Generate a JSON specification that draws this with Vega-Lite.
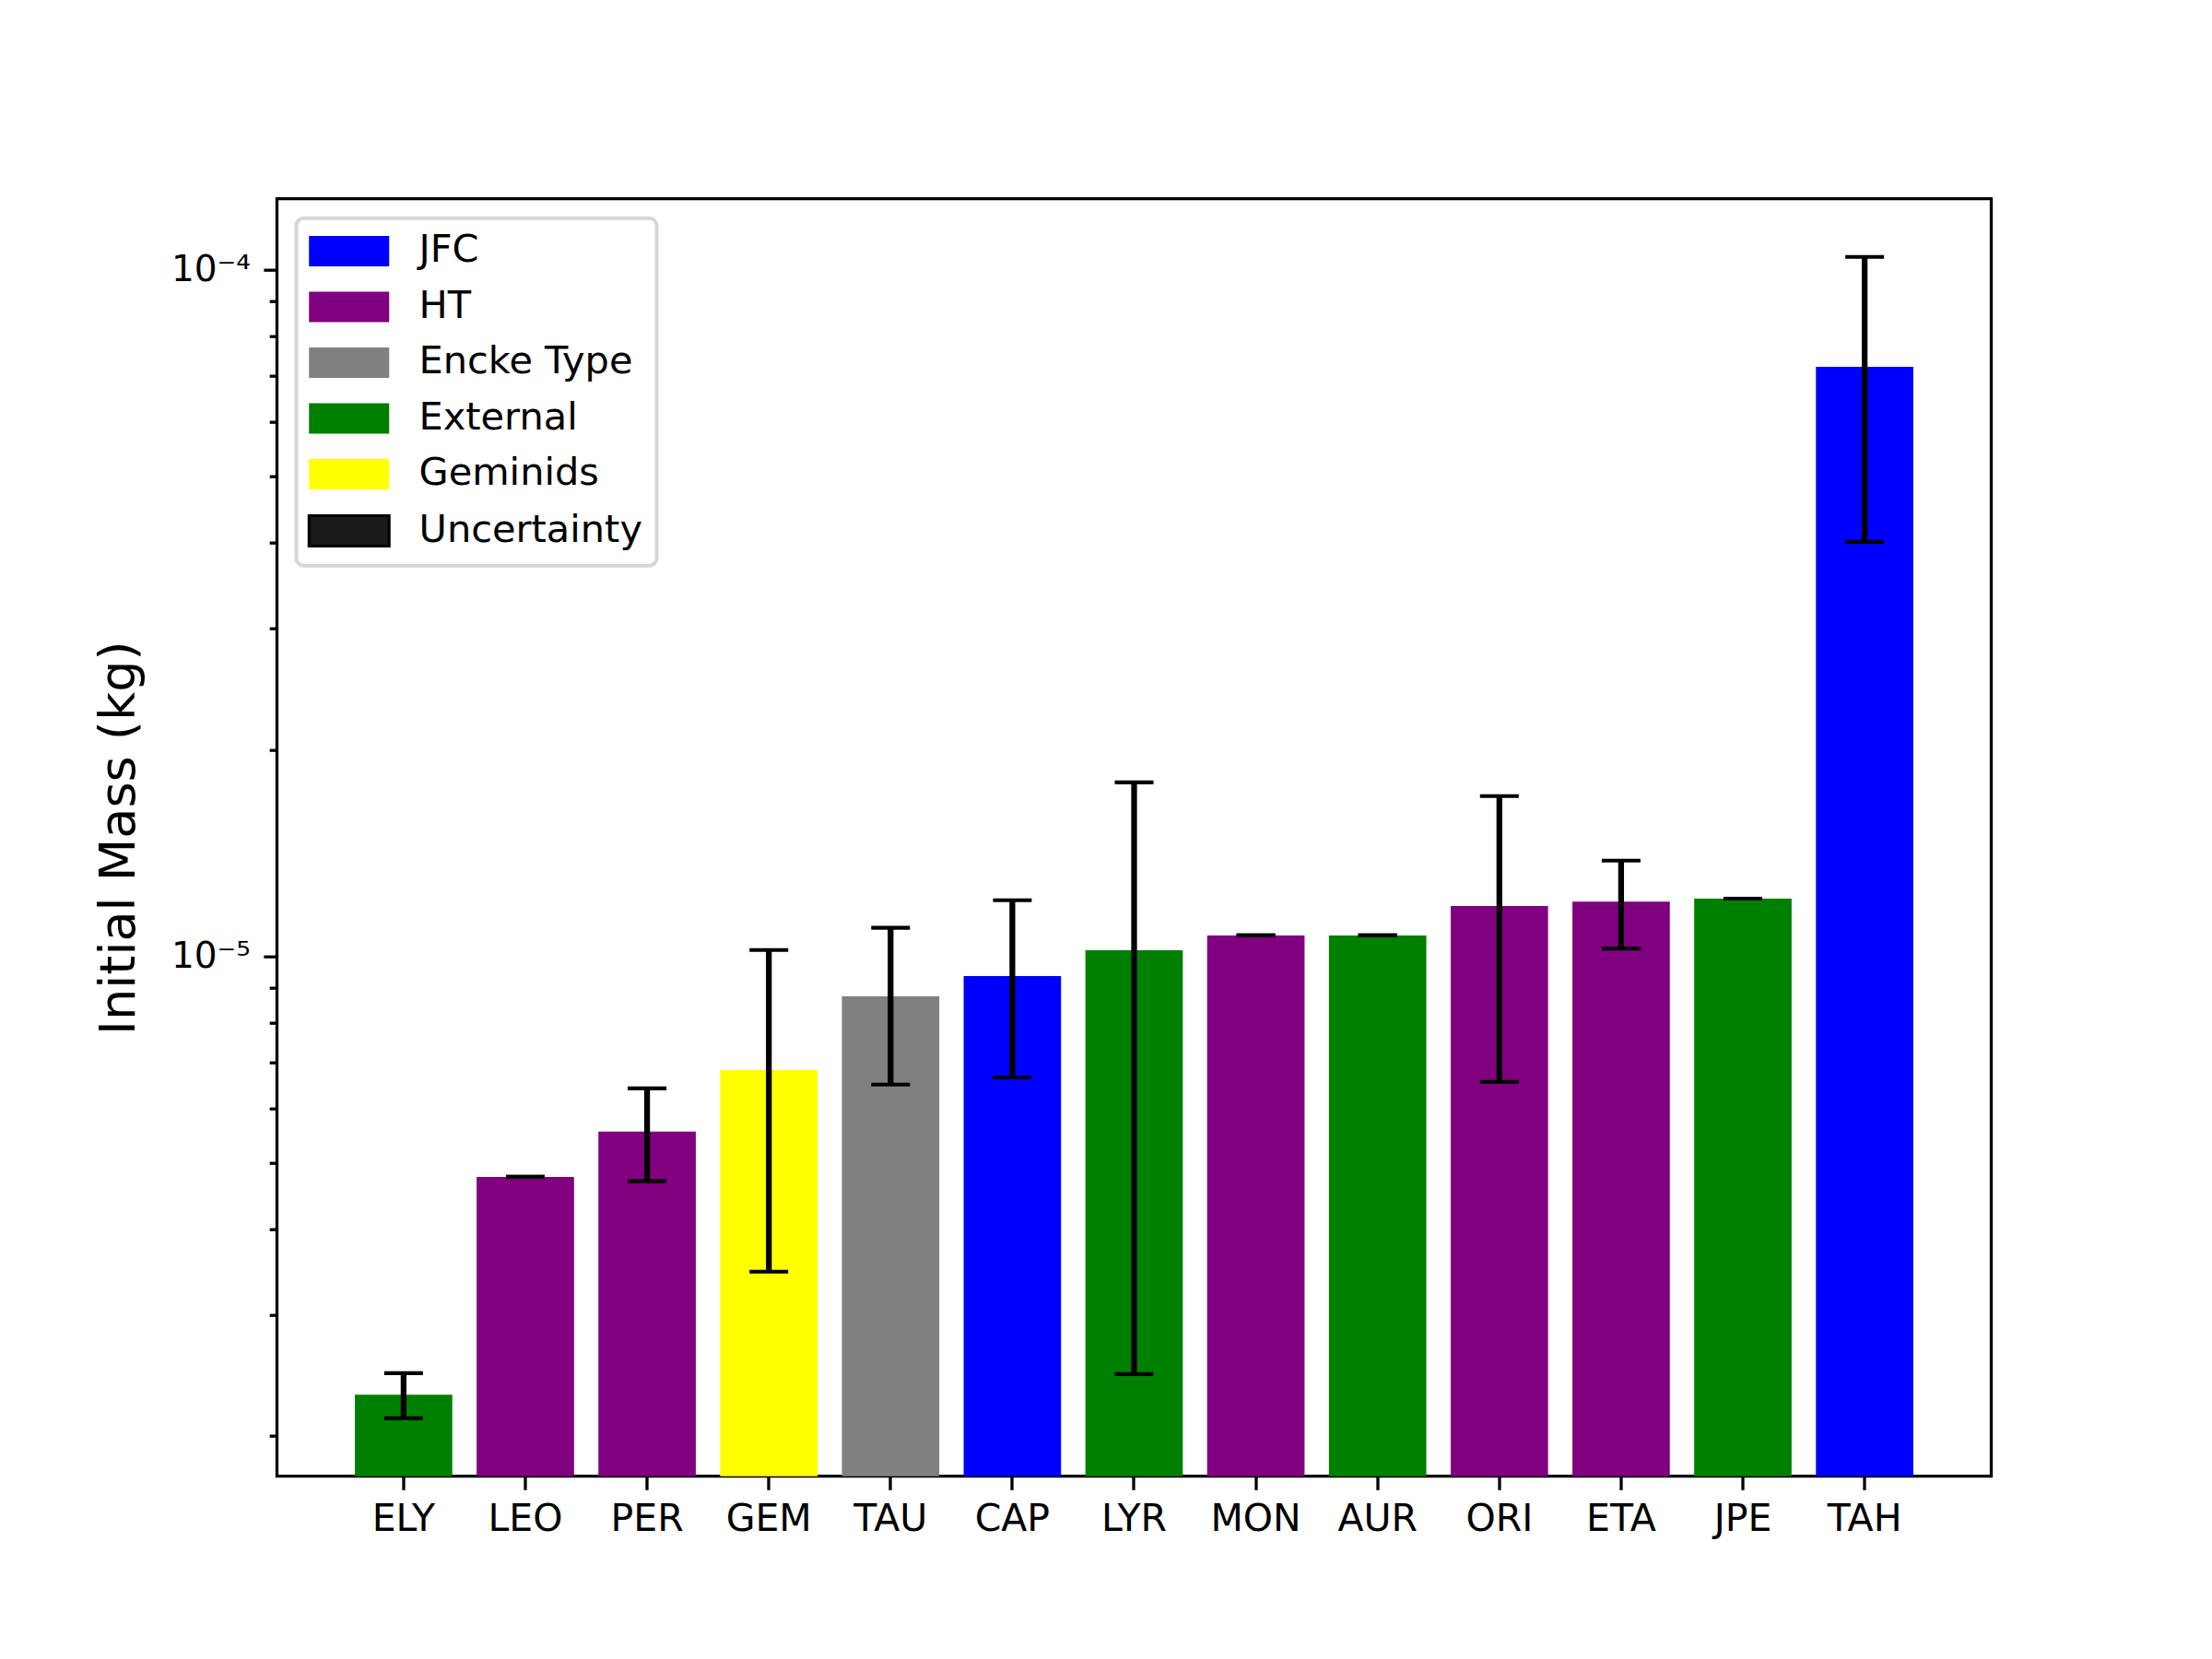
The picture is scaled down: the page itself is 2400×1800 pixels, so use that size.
{
  "$schema": "https://vega.github.io/schema/vega-lite/v6.json",
  "description": "Initial mass of meteoroids per shower, log scale, with uncertainty bars",
  "width": 1860,
  "height": 1386,
  "autosize": {"type": "none"},
  "padding": {"left": 300.5, "top": 215.7, "right": 239.5, "bottom": 198.3},
  "background": "white",
  "data": {
    "values": [
      {"shower": "ELY", "type": "External", "mass": 2.297e-6, "lo": 2.121e-6, "hi": 2.468e-6},
      {"shower": "LEO", "type": "HT", "mass": 4.768e-6, "lo": 4.77e-6, "hi": 4.77e-6},
      {"shower": "PER", "type": "HT", "mass": 5.554e-6, "lo": 4.70e-6, "hi": 6.416e-6},
      {"shower": "GEM", "type": "Geminids", "mass": 6.823e-6, "lo": 3.47e-6, "hi": 1.0209e-5},
      {"shower": "TAU", "type": "Encke Type", "mass": 8.74e-6, "lo": 6.50e-6, "hi": 1.0997e-5},
      {"shower": "CAP", "type": "JFC", "mass": 9.354e-6, "lo": 6.658e-6, "hi": 1.2065e-5},
      {"shower": "LYR", "type": "External", "mass": 1.02e-5, "lo": 2.461e-6, "hi": 1.792e-5},
      {"shower": "MON", "type": "HT", "mass": 1.0717e-5, "lo": 1.072e-5, "hi": 1.072e-5},
      {"shower": "AUR", "type": "External", "mass": 1.0717e-5, "lo": 1.072e-5, "hi": 1.072e-5},
      {"shower": "ORI", "type": "HT", "mass": 1.183e-5, "lo": 6.561e-6, "hi": 1.711e-5},
      {"shower": "ETA", "type": "HT", "mass": 1.2012e-5, "lo": 1.0263e-5, "hi": 1.378e-5},
      {"shower": "JPE", "type": "External", "mass": 1.2126e-5, "lo": 1.213e-5, "hi": 1.213e-5},
      {"shower": "TAH", "type": "JFC", "mass": 7.222e-5, "lo": 4.016e-5, "hi": 1.0443e-4}
    ]
  },
  "resolve": {"axis": {"y": "independent"}},
  "layer": [
    {
      "mark": {"type": "bar"},
      "encoding": {
        "x": {
          "field": "shower",
          "type": "nominal",
          "sort": null,
          "scale": {"paddingInner": 0.2, "paddingOuter": 0.64},
          "axis": {
            "title": null,
            "labelAngle": 0,
            "labelFont": "DejaVu Sans",
            "labelFontSize": 41,
            "labelColor": "black",
            "labelPadding": 12,
            "tickSize": 14.6,
            "tickWidth": 3.3,
            "tickColor": "black",
            "domain": false,
            "grid": false
          }
        },
        "y": {
          "field": "mass",
          "type": "quantitative",
          "stack": null,
          "scale": {"type": "log", "domain": [1.747e-6, 1.269e-4], "nice": false, "zero": false},
          "axis": {
            "orient": "left",
            "title": null,
            "values": [2e-6, 3e-6, 4e-6, 5e-6, 6e-6, 7e-6, 8e-6, 9e-6, 2e-5, 3e-5, 4e-5, 5e-5, 6e-5, 7e-5, 8e-5, 9e-5],
            "labels": false,
            "tickSize": 8.3,
            "tickWidth": 3.3,
            "tickColor": "black",
            "domain": false,
            "grid": false
          }
        },
        "color": {
          "field": "type",
          "type": "nominal",
          "scale": {
            "domain": ["JFC", "HT", "Encke Type", "External", "Geminids", "Uncertainty"],
            "range": ["#0000ff", "#800080", "#808080", "#008000", "#ffff00", "#1a1a1a"]
          },
          "legend": {
            "title": null,
            "orient": "top-left",
            "offset": 21,
            "padding": 15,
            "fillColor": "white",
            "strokeColor": "#d6d6d6",
            "cornerRadius": 8,
            "symbolType": "M-1,-0.38L1,-0.38L1,0.38L-1,0.38Z",
            "symbolSize": 7569,
            "symbolOffset": 21.5,
            "symbolOpacity": 1,
            "symbolStrokeWidth": 0,
            "labelFont": "DejaVu Sans",
            "labelFontSize": 41.5,
            "labelColor": "black",
            "labelLimit": 500,
            "labelOffset": 55,
            "rowPadding": 17.5,
            "encode": {
              "legend": {
                "update": {
                  "strokeWidth": {"value": 4}
                }
              },
              "symbols": {
                "update": {
                  "stroke": {"value": "black"},
                  "strokeWidth": {"signal": "datum.value === 'Uncertainty' ? 3 : 0"}
                }
              }
            }
          }
        }
      }
    },
    {
      "mark": {"type": "rule", "color": "black", "strokeWidth": 6.25},
      "encoding": {
        "x": {"field": "shower", "type": "nominal", "sort": null},
        "y": {
          "field": "lo",
          "type": "quantitative",
          "scale": {"type": "log", "domain": [1.747e-6, 1.269e-4], "nice": false, "zero": false},
          "axis": {
            "orient": "left",
            "title": "Initial Mass (kg)",
            "titleFont": "DejaVu Sans",
            "titleFontSize": 54,
            "titleFontWeight": "normal",
            "titleColor": "black",
            "titleAngle": 270,
            "titleAlign": "center",
            "titleBaseline": "alphabetic",
            "titleX": -155.5,
            "titleY": 693,
            "values": [1e-5, 1e-4],
            "labelExpr": "datum.value < 0.00005 ? '10⁻⁵' : '10⁻⁴'",
            "labelFont": "DejaVu Sans",
            "labelFontSize": 39,
            "labelColor": "black",
            "labelPadding": 14.6,
            "tickSize": 14.6,
            "tickWidth": 3.3,
            "tickColor": "black",
            "domain": false,
            "grid": false
          }
        },
        "y2": {"field": "hi"}
      }
    },
    {
      "mark": {"type": "tick", "color": "black", "size": 42, "thickness": 4.2, "opacity": 1},
      "encoding": {
        "x": {"field": "shower", "type": "nominal", "sort": null},
        "y": {
          "field": "lo",
          "type": "quantitative",
          "scale": {"type": "log", "domain": [1.747e-6, 1.269e-4], "nice": false, "zero": false},
          "axis": null
        }
      }
    },
    {
      "mark": {"type": "tick", "color": "black", "size": 42, "thickness": 4.2, "opacity": 1},
      "encoding": {
        "x": {"field": "shower", "type": "nominal", "sort": null},
        "y": {
          "field": "hi",
          "type": "quantitative",
          "scale": {"type": "log", "domain": [1.747e-6, 1.269e-4], "nice": false, "zero": false},
          "axis": null
        }
      }
    }
  ],
  "config": {
    "view": {"stroke": "black", "strokeWidth": 3.3},
    "font": "DejaVu Sans"
  }
}
